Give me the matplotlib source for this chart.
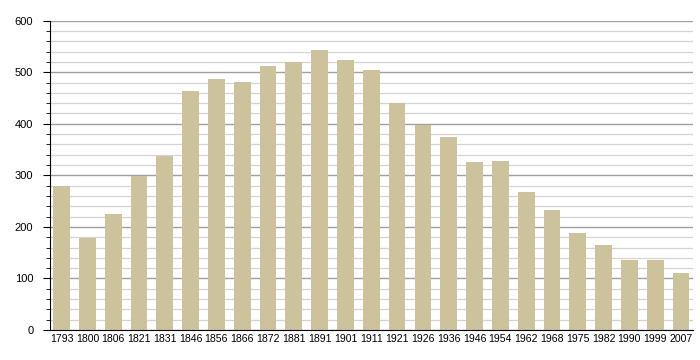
import matplotlib
matplotlib.use("Agg")
import matplotlib.pyplot as plt
import numpy as np
from matplotlib.ticker import MultipleLocator

years = ["1793", "1800", "1806", "1821", "1831", "1846", "1856", "1866", "1872", "1881",
         "1891", "1901", "1911", "1921", "1926", "1936", "1946", "1954", "1962", "1968",
         "1975", "1982", "1990", "1999", "2007"]
population = [279, 178, 226, 298, 337, 463, 486, 482, 513, 519,
              544, 523, 505, 441, 397, 375, 325, 327, 267, 232,
              188, 165, 135, 135, 110]

plt.rcParams['font.family'] = ['Liberation Sans', 'DejaVu Sans']

fig = plt.figure(figsize=(7, 3.6), dpi=100)
ax = fig.add_axes([0.0714, 0.0833, 0.918, 0.8592])

x = np.arange(len(years))
ax.set_axisbelow(True)
ax.yaxis.set_major_locator(MultipleLocator(100))
ax.yaxis.set_minor_locator(MultipleLocator(20))
ax.grid(axis='y', which='major', color='#a0a0a0', linewidth=1.0)
ax.grid(axis='y', which='minor', color='#d4d4d4', linewidth=0.9)
ax.bar(x, population, width=0.65, color='#ccc39c', zorder=2)

ax.set_xlim(-0.45, len(years) - 0.55)
ax.set_ylim(0, 600)
ax.set_xticks(x)
ax.set_xticklabels(years, fontsize=7.6)
ax.tick_params(axis='x', length=0, pad=3)
ax.tick_params(axis='y', which='major', length=5, labelsize=8, pad=7)
ax.tick_params(axis='y', which='minor', length=3)
for s in ['top', 'right']:
    ax.spines[s].set_visible(False)
ax.spines['left'].set_color('black')
ax.spines['bottom'].set_color('black')

fig.savefig("out.png", dpi=100)
